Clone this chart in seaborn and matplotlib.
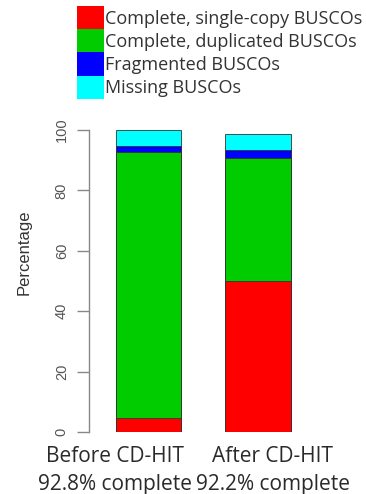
import numpy as np
import pandas as pd
import matplotlib
matplotlib.use("Agg")
import matplotlib.pyplot as plt
from matplotlib.patches import Patch
import seaborn as sns

# ---- data ----
samples = ["Before CD-HIT\n92.8% complete", "After CD-HIT\n92.2% complete"]
categories = ["Complete, single-copy BUSCOs", "Complete, duplicated BUSCOs",
              "Fragmented BUSCOs", "Missing BUSCOs"]
single_copy = [4.8, 50.0]
duplicated = [87.8, 40.6]
fragmented = [2.2, 2.9]
missing = [5.2, 5.3]
colors = ["#FF0000", "#00CC00", "#0000FF", "#00FFFF"]
y_ticks = [0, 20, 40, 60, 80, 100]

sns.set_theme(style="white")
plt.rcParams["font.family"] = ["Open Sans", "DejaVu Sans"]

W, H = 366, 494
fig = plt.figure(figsize=(W / 100, H / 100), dpi=100)
ax = fig.add_axes([89 / W, 62 / H, (310 - 89) / W, (432 - 130) / H])

layers = [single_copy, duplicated, fragmented, missing]
cum = np.cumsum(np.array(layers), axis=0)
# draw cumulative stacks from top layer down so each overlays the one above
for i in range(len(layers) - 1, -1, -1):
    df = pd.DataFrame({"sample": samples, "value": cum[i]})
    sns.barplot(data=df, x="sample", y="value", color=colors[i], width=0.6,
                saturation=1, edgecolor="#333333", linewidth=0.6, ax=ax)

ax.set_xlim(-0.546, 1.476)
ax.set_ylim(0, 100)

# x labels (placed slightly off the bar centres, as in the reference)
ax.set_xticks([-0.31, 1.135])
ax.set_xticklabels(samples)
ax.tick_params(axis="x", length=0, pad=10, labelsize=15, labelcolor="#2a2a2a")
for lab in ax.get_xticklabels():
    lab.set_linespacing(1.45)

ax.set_yticks(y_ticks)
ax.set_yticklabels([str(t) for t in y_ticks], family="Liberation Sans",
                   fontsize=10.5, color="#555555")
ax.tick_params(axis="y", length=8.5, width=1.0, color="#888888", pad=6,
               left=True, labelrotation=90)
for lab in ax.get_yticklabels():
    lab.set_verticalalignment("center")

for s in ["top", "right", "bottom"]:
    ax.spines[s].set_visible(False)
ax.spines["left"].set_color("#888888")
ax.spines["left"].set_linewidth(1.0)
ax.spines["left"].set_bounds(0, 100)
ax.set_xlabel("")
ax.set_ylabel("Percentage", family="Liberation Sans", fontsize=12,
              color="#333333")
ax.yaxis.set_label_coords(-0.26, 0.596)

handles = [Patch(facecolor=c, edgecolor="none") for c in colors]
fig.legend(handles, categories, loc="upper left",
           bbox_to_anchor=(77 / W, 1 - 6 / H), frameon=False,
           fontsize=13, labelspacing=0, handlelength=1.5, handleheight=1.6,
           handletextpad=0.05, borderpad=0, borderaxespad=0, labelcolor="#333333")

fig.savefig("out.png", dpi=100)
